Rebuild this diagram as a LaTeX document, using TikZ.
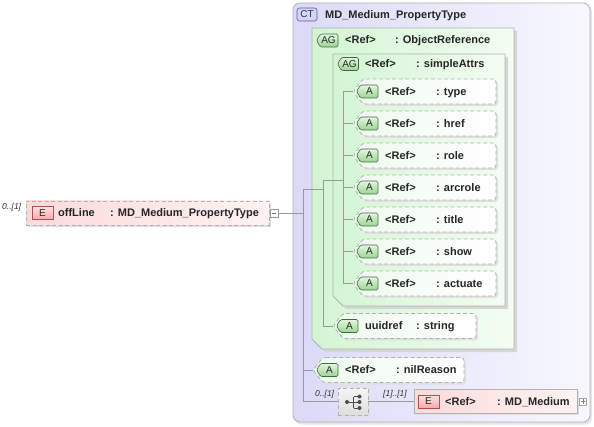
\documentclass[tikz,border=0pt]{standalone}
\usepackage{fontspec}
\setmainfont{Liberation Sans}
\usetikzlibrary{calc}
\definecolor{ctL}{HTML}{DADAF7}
\definecolor{ctR}{HTML}{F8F8FF}
\definecolor{grpL}{HTML}{D3F5D3}
\definecolor{grpR}{HTML}{F3FDF3}
\definecolor{attrL}{HTML}{EEFAEE}
\definecolor{attrR}{HTML}{FFFFFF}
\definecolor{elemL}{HTML}{FBDADA}
\definecolor{elemR}{HTML}{FFF2F2}
\definecolor{gbadgeT}{HTML}{E4F6E0}
\definecolor{gbadgeB}{HTML}{9CD494}
\definecolor{gbadgeD}{HTML}{3E6E3E}
\definecolor{pbadgeT}{HTML}{FFE2E2}
\definecolor{pbadgeB}{HTML}{F4AAAA}
\definecolor{pbadgeD}{HTML}{B05050}
\definecolor{cbadge}{HTML}{D4D4F8}
\definecolor{cbadgeD}{HTML}{5A5AA0}
\tikzset{
  txt/.style={anchor=base west, inner sep=0pt, font=\fontsize{11}{13}\selectfont\bfseries, text=black!85},
  card/.style={anchor=base west, inner sep=0pt, font=\fontsize{8.5}{10}\selectfont\itshape, text=black!80},
  badgetxt/.style={inner sep=0pt, font=\fontsize{10}{12}\selectfont, text=black!85},
  wire/.style={draw=black!40, line width=0.6pt},
  dashbox/.style={draw=black!30, dash pattern=on 4pt off 2.5pt, line width=0.8pt},
  solidbox/.style={draw=black!30, line width=0.8pt},
  badgeG/.style={draw=gbadgeD, top color=gbadgeT, bottom color=gbadgeB, line width=0.6pt, rounded corners=1.5pt},
  badgeE/.style={draw=pbadgeD, top color=pbadgeT, bottom color=pbadgeB, line width=0.6pt},
  shadowfill/.style={fill=black!12},
}
% #1 id, #2 tip x, #3 centre y, #4 right x, #5 first text, #6 second text
\newcommand\attrrow[6]{%
  \fill[shadowfill, rounded corners=3pt] (#2+12,#3-10.5) -- (#4+2,#3-10.5) -- (#4+2,#3+14.5) -- (#2+12,#3+14.5) -- (#2+2,#3+2) -- cycle;
  \draw[dashbox, rounded corners=3pt, left color=attrL, right color=attrR] (#2+10,#3-12.5) -- (#4,#3-12.5) -- (#4,#3+12.5) -- (#2+10,#3+12.5) -- (#2,#3) -- cycle;
  \coordinate (#1) at (#2,#3);
  \draw[badgeG] (#2+3.5,#3) -- (#2+7.5,#3-6.5) -- (#2+25,#3-6.5) -- (#2+25,#3+6.5) -- (#2+7.5,#3+6.5) -- cycle;
  \node[badgetxt] (#1-b) at (#2+16.5,#3) {A};
  \node[txt] (#1-n) at (#2+32,#3+3.8) {#5};
  \node[txt] (#1-t) at (#2+83,#3+3.8) {#6};
}
% group box with cut lower-left corner: #1 left, #2 top, #3 right, #4 bottom
\newcommand\groupbox[4]{%
  \fill[black!16] (#1+3,#2+3) -- (#3+3,#2+3) -- (#3+3,#4+3) -- (#1+13,#4+3) -- (#1+3,#4-7) -- cycle;
  \draw[solidbox, left color=grpL, right color=grpR] (#1,#2) -- (#3,#2) -- (#3,#4) -- (#1+10,#4) -- (#1,#4-10) -- cycle;
}
\begin{document}
\begin{tikzpicture}[x=1pt,y=-1pt]
\useasboundingbox (0,0) rectangle (594,427);
\fill[white] (0,0) rectangle (594,427);

% ---------- complex type box ----------
\fill[black!10, rounded corners=7pt] (295,5) rectangle (592,424.5);
\draw[solidbox, rounded corners=7pt, left color=ctL, right color=ctR] (293,3) rectangle (590,422);
\node[draw=cbadgeD, fill=cbadge, rounded corners=2.5pt, line width=0.6pt, minimum width=20pt, minimum height=13pt, inner sep=0pt, font=\fontsize{10}{12}\selectfont, text=black!80] (ctb) at (307,14.5) {CT};
\node[txt] (ctname) at (325,18.5) {MD\_Medium\_PropertyType};

% ---------- attribute group ObjectReference ----------
\groupbox{312}{28}{514}{349}
\draw[badgeG] (316.5,40.5) -- (320.5,34) -- (338,34) -- (338,47) -- (320.5,47) -- cycle;
\node[badgetxt] (orb-b) at (328.5,40.5) {AG};
\node[txt] (orb-n) at (345,44) {<Ref>};
\node[txt] (orb-t) at (395,44) {: ObjectReference};

% ---------- attribute group simpleAttrs ----------
\groupbox{333}{54}{505}{306}
\draw[badgeG] (337.5,64) -- (341.5,57.5) -- (358.5,57.5) -- (358.5,70.5) -- (341.5,70.5) -- cycle;
\node[badgetxt] (sab-b) at (349.5,64) {AG};
\node[txt] (sab-n) at (365,68) {<Ref>};
\node[txt] (sab-t) at (416,68) {: simpleAttrs};

% ---------- bus coordinates ----------
\coordinate (ctj) at (303,189);
\coordinate (ctbot) at (303,401.5);
\coordinate (orj) at (323,180);
\coordinate (orbot) at (323,326);
\coordinate (saj) at (343,91.5);
\coordinate (sabot) at (343,283.5);

% ---------- attributes ----------
\attrrow{type}{353}{91.5}{496}{<Ref>}{: type}
\attrrow{href}{353}{123.5}{496}{<Ref>}{: href}
\attrrow{role}{353}{155.5}{496}{<Ref>}{: role}
\attrrow{arcrole}{353}{187.5}{496}{<Ref>}{: arcrole}
\attrrow{title}{353}{219.5}{496}{<Ref>}{: title}
\attrrow{show}{353}{251.5}{496}{<Ref>}{: show}
\attrrow{actuate}{353}{283.5}{496}{<Ref>}{: actuate}
\attrrow{uuid}{333}{326}{476}{uuidref}{: string}
\attrrow{nil}{313}{370}{464}{<Ref>}{: nilReason}

% ---------- element offLine ----------
\node[card] (offcard) at (2,210) {0..[1]};
\fill[shadowfill] (28,203) rectangle (271,227);
\node[dashbox, left color=elemL, right color=elemR, minimum width=243pt, minimum height=24pt, inner sep=0pt] (off) at (147.5,213) {};
\node[badgeE, minimum width=21pt, minimum height=12.5pt, inner sep=0pt] (offE) at (42.5,213) {};
\node[badgetxt] (offE-t) at (42.5,213) {E};
\node[txt] (off-n) at (58,217) {offLine};
\node[txt] (off-t) at (110,217) {: MD\_Medium\_PropertyType};
\node[draw=black!40, fill=white, line width=0.5pt, minimum size=8pt, inner sep=0pt] (minus) at (274,213) {};
\draw[black!55, line width=0.5pt] ([xshift=1.8pt]minus.west) -- ([xshift=-1.8pt]minus.east);

% ---------- sequence compositor ----------
\fill[shadowfill] (340,390) rectangle (370,417);
\node[dashbox, top color=black!4, bottom color=black!13, minimum width=30pt, minimum height=27pt, inner sep=0pt] (seq) at (353,401.5) {};
\coordinate (sq0) at (347,402);
\coordinate (sq1) at (353.5,396.5);
\coordinate (sq2) at (353.5,402);
\coordinate (sq3) at (353.5,408);
\draw[black!70, line width=0.8pt] (sq0) -- (sq2) (sq1) -- (sq3) (sq1) -- ++(5,0) (sq2) -- ++(5,0) (sq3) -- ++(5,0);
\fill[black!70] (sq0) circle (2pt) ($(sq1)+(6,0)$) circle (2pt) ($(sq2)+(6,0)$) circle (2pt) ($(sq3)+(6,0)$) circle (2pt);
\node[card] (seqcard) at (315,396) {0..[1]};
\node[card] (medcard) at (383,396) {[1]..[1]};

% ---------- element MD_Medium ----------
\fill[shadowfill] (416,391) rectangle (579,415);
\node[solidbox, left color=elemL, right color=elemR, minimum width=163pt, minimum height=24pt, inner sep=0pt] (med) at (495.5,401) {};
\node[badgeE, minimum width=21pt, minimum height=13pt, inner sep=0pt] (medE) at (428.5,401.5) {};
\node[badgetxt] (medE-t) at (428.5,401.5) {E};
\node[txt] (med-n) at (445,405) {<Ref>};
\node[txt] (med-t) at (497,405) {: MD\_Medium};
\node[draw=black!35, fill=white, line width=0.5pt, minimum size=7pt, inner sep=0pt] (plus) at (583,401.5) {};
\draw[black!50, line width=0.5pt] ([xshift=1.5pt]plus.west) -- ([xshift=-1.5pt]plus.east) ([yshift=-1.5pt]plus.north) -- ([yshift=1.5pt]plus.south);

% ---------- connectors ----------
\draw[wire] (minus.east) -- (minus.east -| ctj);
\draw[wire] (ctj) -- (ctbot);
\draw[wire] (ctj) -- (ctj -| orj);
\draw[wire] (orj) -- (orbot);
\draw[wire] (orj) -- (orj -| saj);
\draw[wire] (saj) -- (sabot);
\foreach \r in {type,href,role,arcrole,title,show,actuate} {
  \draw[wire] (\r -| saj) -- (\r);
}
\draw[wire] (orbot) -- (uuid);
\draw[wire] (nil -| ctj) -- (nil);
\draw[wire] (ctbot) -- (seq.west);
\draw[wire] (seq.east) -- (seq.east -| med.west);
\end{tikzpicture}
\end{document}
